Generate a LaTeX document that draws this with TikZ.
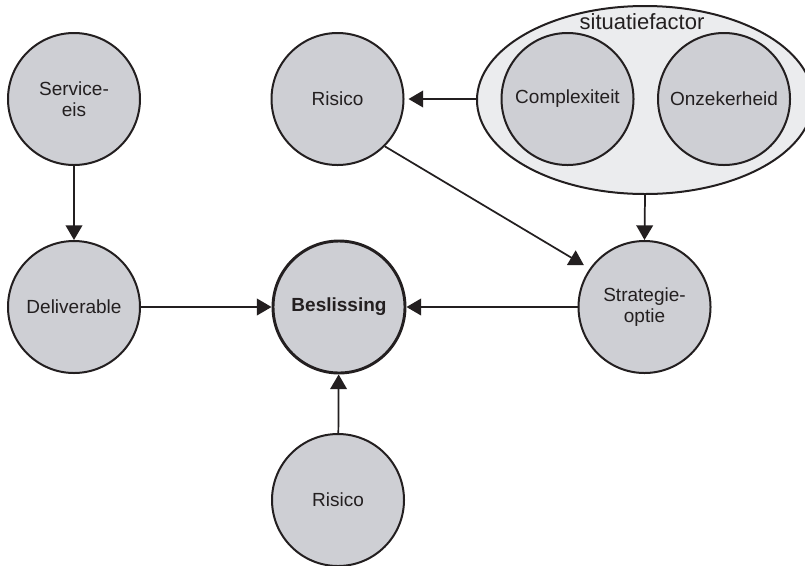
\documentclass[tikz,border=0pt]{standalone}
\usepackage{fontspec}
\setmainfont{Liberation Sans}
\usetikzlibrary{arrows.meta,shapes.geometric}
\definecolor{ink}{RGB}{35,31,32}
\definecolor{nodefill}{RGB}{206,207,212}
\definecolor{groupfill}{RGB}{235,236,238}
\begin{document}
\begin{tikzpicture}[x=0.75pt,y=-0.75pt,
  factor/.style={circle, draw=ink, fill=nodefill, line width=1.5pt,
    minimum size=99pt, inner sep=0pt, align=center, text=ink,
    font=\fontsize{14.25}{15.75}\selectfont},
  decision/.style={factor, line width=2.2pt,
    font=\fontsize{14.25}{15.75}\selectfont\bfseries},
  group/.style={ellipse, draw=ink, fill=groupfill, line width=1.5pt,
    minimum width=252pt, minimum height=141pt, inner sep=0pt},
  grouplabel/.style={text=ink, font=\fontsize{16.5}{18}\selectfont, inner sep=0pt},
  link/.style={draw=ink, line width=1.3pt, -{Triangle[length=11pt,width=12.5pt]}}
]
\useasboundingbox (0,0) rectangle (805,565);

% situational factors grouped in an ellipse
\node[group] (sit) at (645,100) {};
\node[grouplabel] (sitlabel) at (642,22) {situatiefactor};
\node[factor] (compl) at (567.5,99) {Complexiteit};
\node[factor] (onz) at (724,99) {Onzekerheid};

% the other factors
\node[factor] (serv) at (74,99) {Service-\\eis};
\node[factor] (risk1) at (337.5,99) {Risico};
\node[factor] (deliv) at (74,307) {Deliverable};
\node[decision] (besl) at (339,307) {Beslissing};
\node[factor] (strat) at (644.5,307) {Strategie-\\optie};
\node[factor] (risk2) at (338,500) {Risico};

% influences
\draw[link] (serv) -- (deliv);
\draw[link] (deliv) -- (besl);
\draw[link] (strat) -- (besl);
\draw[link] (risk2) -- (besl);
\draw[link, shorten >=3pt] (sit.west |- risk1.east) -- (risk1.east);
\draw[link] (sit.south) -- (strat.north);
\draw[link, shorten >=5pt] (risk1.-45) -- (strat.145);
\end{tikzpicture}
\end{document}
